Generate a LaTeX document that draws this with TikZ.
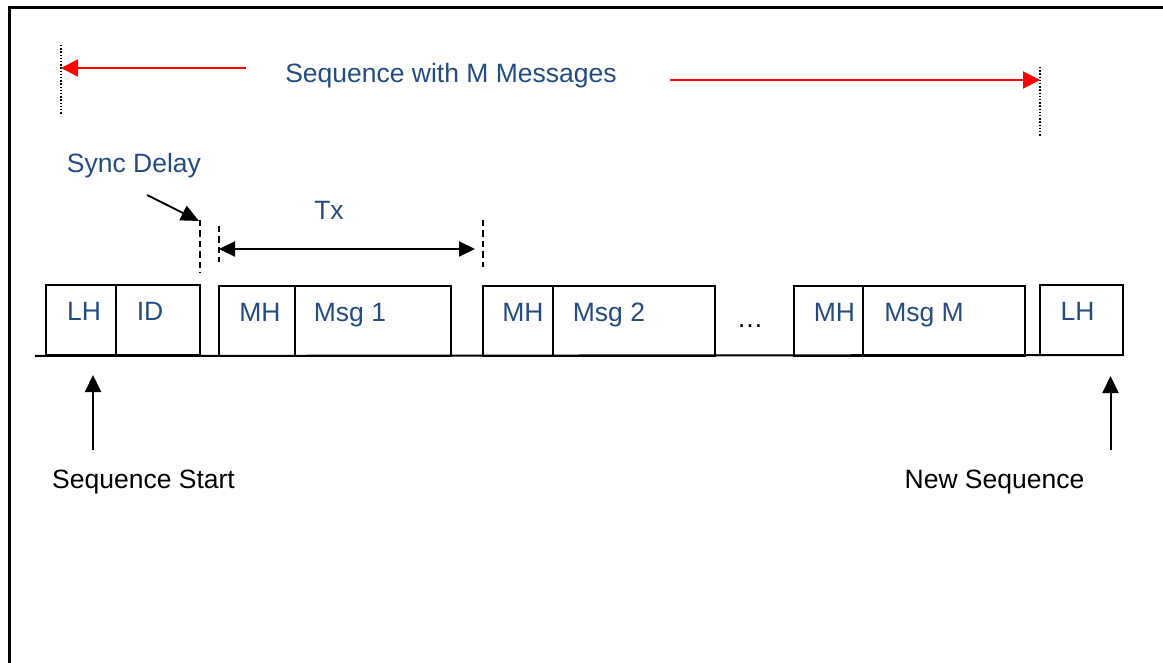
\documentclass[tikz,border=0pt]{standalone}
\usepackage{fontspec}
\setmainfont{Liberation Sans}
\usetikzlibrary{arrows.meta}
\definecolor{labelblue}{RGB}{36,76,130}
\definecolor{seqred}{RGB}{255,0,0}

\begin{document}
\begin{tikzpicture}[x=1pt,y=-1pt,
  cell/.style={draw=black, line width=2pt, minimum height=70pt,
    anchor=north west, inner sep=0pt, outer sep=0pt},
  lbl/.style={text=labelblue, anchor=base, inner sep=0pt,
    font=\fontsize{26.5}{30}\selectfont},
  note/.style={text=black, anchor=base, inner sep=0pt,
    font=\fontsize{26.5}{30}\selectfont},
  redarrow/.style={draw=seqred, line width=2pt,
    -{Triangle[length=17pt,width=17pt]}},
  blackarrow/.style={draw=black, line width=2pt,
    -{Triangle[length=17pt,width=16pt]}},
  dotmark/.style={draw=black, line width=1.7pt, dash pattern=on 1.4pt off 1.8pt},
  dashmark/.style={draw=black, line width=1.8pt, dash pattern=on 6.5pt off 4pt},
]
\useasboundingbox (0,0) rectangle (1163,663);
\clip (0,0) rectangle (1163,663);

% outer frame
\draw[line width=3pt] (9,680) -- (9,8) -- (1180,8);

% overall sequence span
\coordinate (spanL) at (61,68);
\coordinate (spanLtail) at (246,68);
\coordinate (spanR) at (1040,80);
\coordinate (spanRtail) at (670,80);
\coordinate (markL1) at (61,45);
\coordinate (markL2) at (61,115);
\coordinate (markR1) at (1040,67);
\coordinate (markR2) at (1040,137);
\draw[dotmark] (markL1) -- (markL2);
\draw[dotmark] (markR1) -- (markR2);
\draw[redarrow] (spanLtail) -- (spanL);
\draw[redarrow] (spanRtail) -- (spanR);
\node[lbl] (seqtitle) at (451,83) {Sequence with M Messages};

% sync delay
\node[lbl] (synclbl) at (134,173) {Sync Delay};
\coordinate (syncfrom) at (147,195);
\coordinate (syncto) at (199,221);
\draw[blackarrow, -{Triangle[length=18pt,width=16pt]}] (syncfrom) -- (syncto);
\coordinate (gapA1) at (200,220);
\coordinate (gapA2) at (200,273);
\coordinate (gapB1) at (219,226);
\coordinate (gapB2) at (219,262);
\draw[dashmark] (gapA1) -- (gapA2);
\draw[dashmark] (gapB1) -- (gapB2);

% transmission interval
\node[lbl] (txlbl) at (329,220) {Tx};
\coordinate (txL) at (219,249);
\coordinate (txR) at (475,249);
\coordinate (gapC1) at (483,220);
\coordinate (gapC2) at (483,267);
\draw[dashmark] (gapC1) -- (gapC2);
\draw[draw=black, line width=2pt,
  {Triangle[length=16pt,width=15pt]}-{Triangle[length=16pt,width=15pt]}] (txL) -- (txR);

% time line
\coordinate (lineStart) at (35,356);

% frames
\node[cell, minimum width=70pt]  (lh1)  at (46,285)  {};
\node[cell, minimum width=84pt]  (id)   at (116,285) {};
\node[cell, minimum width=76pt]  (mh1)  at (219,286) {};
\node[cell, minimum width=156pt] (msg1) at (295,286) {};
\node[cell, minimum width=70pt]  (mh2)  at (483,286) {};
\node[cell, minimum width=162pt] (msg2) at (553,286) {};
\node[cell, minimum width=69pt]  (mh3)  at (794,286) {};
\node[cell, minimum width=162pt] (msgm) at (863,286) {};
\node[cell, minimum width=83pt]  (lh2)  at (1040,285) {};
\draw[line width=2pt] (lineStart) -- (lh2.south east);

% frame labels
\node[lbl] (lh1t)  at (84,321)    {LH};
\node[lbl] (idt)   at (150,321)   {ID};
\node[lbl] (mh1t)  at (260,322)   {MH};
\node[lbl] (msg1t) at (350,322)   {Msg 1};
\node[lbl] (mh2t)  at (523,322)   {MH};
\node[lbl] (msg2t) at (609,322)   {Msg 2};
\node[note] (dots) at (750,327)   {…};
\node[lbl] (mh3t)  at (834.5,322) {MH};
\node[lbl] (msgmt) at (924,322)   {Msg M};
\node[lbl] (lh2t)  at (1077.5,321) {LH};

% sequence boundaries
\coordinate (startTail) at (93,450);
\coordinate (startTip) at (93,375);
\coordinate (newTail) at (1110.5,450);
\coordinate (newTip) at (1110.5,376);
\draw[blackarrow] (startTail) -- (startTip);
\draw[blackarrow] (newTail) -- (newTip);
\node[note] (startlbl) at (143.5,488) {Sequence Start};
\node[note] (newlbl) at (994.5,488) {New Sequence};
\end{tikzpicture}
\end{document}
